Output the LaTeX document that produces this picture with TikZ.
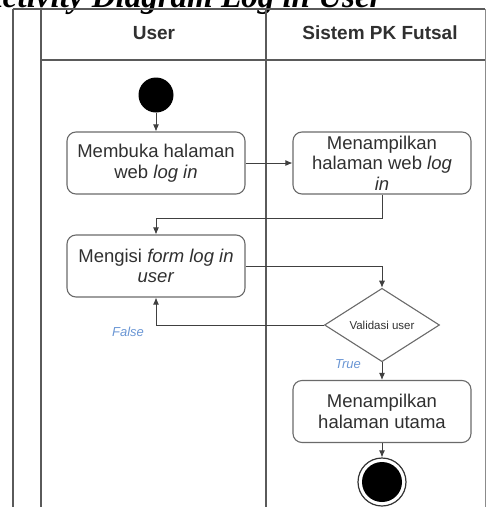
\documentclass[tikz,border=0pt]{standalone}
\usepackage{fontspec}
\setmainfont{Liberation Sans}
\newfontfamily\capfont{Liberation Serif}
\usetikzlibrary{arrows.meta,shapes.geometric}

\definecolor{laneline}{HTML}{5A5A5A}
\definecolor{boxline}{HTML}{6A6A6A}
\definecolor{inktext}{HTML}{303030}
\definecolor{guard}{HTML}{6A96D4}

\begin{document}
\begin{tikzpicture}[x=1pt,y=-1pt,
  lane/.style={draw=laneline, line width=1.5pt},
  edge/.style={draw=laneline!70, line width=1pt},
  header/.style={font=\bfseries\fontsize{19}{22}\selectfont, text=inktext},
  act/.style={draw=boxline, line width=1.1pt, rounded corners=9pt,
    minimum width=178pt, minimum height=62pt, inner sep=2pt, align=center,
    font=\fontsize{18.5}{20.5}\selectfont, text=inktext},
  decision/.style={draw=boxline, line width=1.1pt, shape=diamond, inner sep=0pt,
    minimum width=115pt, minimum height=60pt,
    font=\fontsize{11.5}{13}\selectfont, text=inktext},
  flow/.style={draw=black!75, line width=0.9pt, -{Latex[length=7pt,width=6pt]}},
  guardlbl/.style={font=\itshape\fontsize{13}{15}\selectfont, text=guard},
  caption/.style={font=\capfont\bfseries\itshape\fontsize{33}{36}\selectfont}]

\clip (0,0) rectangle (487,507);
\useasboundingbox (0,0) rectangle (487,507);

% caption above the swimlanes
\node[caption, anchor=base east] (title) at (386,7) {Activity Diagram Log in User};

% swimlane frame
\draw[lane] (13,9) -- (485,9);
\draw[lane] (13,9) -- (13,507);
\draw[lane] (41,9) -- (41,507);
\draw[lane] (266,9) -- (266,507);
\draw[edge] (485,9) -- (485,507);
\draw[lane] (41,60) -- (485,60);

\node[header] (hUser) at (154,33) {User};
\node[header] (hSys) at (380,33) {Sistem PK Futsal};

% activities
\node[circle, fill=black, minimum size=35pt, inner sep=0pt] (start) at (156,95) {};
\node[act] (b1) at (156,163) {Membuka halaman\\web \textit{log in}};
\node[act] (b2) at (382,163) {Menampilkan\\halaman web \textit{log}\\\textit{in}};
\node[act] (b3) at (156,266) {Mengisi \textit{form log in}\\\textit{user}};
\node[decision] (dec) at (382,325) {Validasi user};
\node[act] (b4) at (382,411.5) {Menampilkan\\halaman utama};
\node[circle, draw=black!80, line width=1.2pt, minimum size=48pt, inner sep=0pt,
  path picture={\fill[black] (path picture bounding box.center) circle (20pt);}] (stop) at (382,482) {};

% control flow
\draw[flow] (start) -- (b1);
\draw[flow] (b1) -- (b2);
\draw[flow] (b2.south) -- ++(0,24) -| (b3.north);
\draw[flow] (b3.east) -| (dec.north);
\draw[flow] (dec.west) -| (b3.south);
\draw[flow] (dec) -- (b4);
\draw[flow] (b4) -- (stop);

\node[guardlbl] (lFalse) at (128,332) {False};
\node[guardlbl] (lTrue) at (348,364) {True};
\end{tikzpicture}
\end{document}
